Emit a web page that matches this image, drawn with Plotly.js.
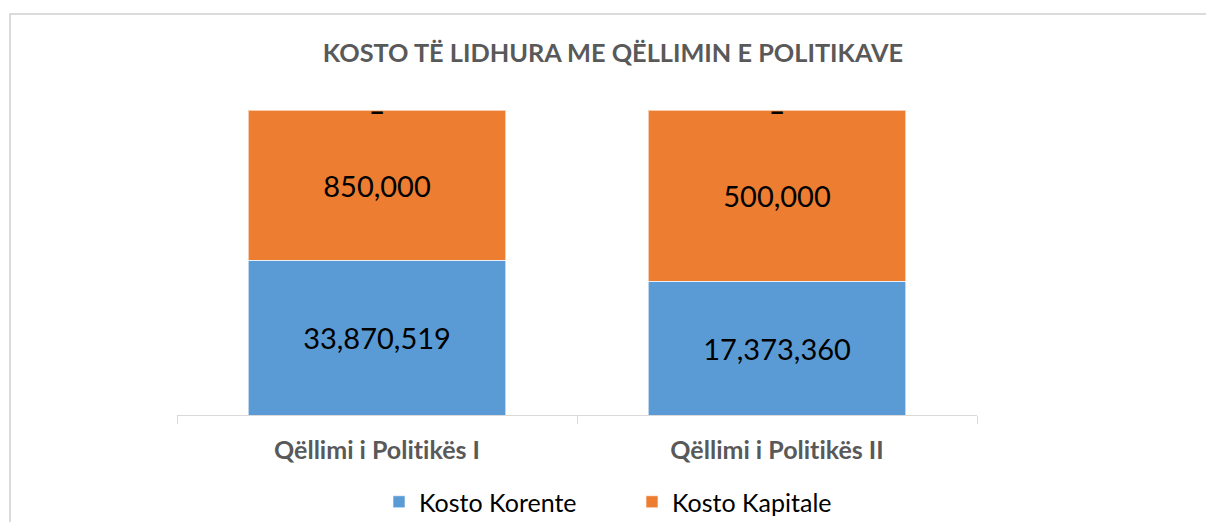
<!DOCTYPE html>
<html>
<head>
<meta charset="utf-8">
<script src="https://cdn.plot.ly/plotly-3.0.1.min.js"></script>
<style>html,body{margin:0;padding:0;background:#fff;}#chart{width:1206px;height:522px;}
#chart text{font-variant-ligatures:none;font-feature-settings:"liga" 0;}</style>
</head>
<body>
<div id="chart"></div>
<script>
// Categories
var categories = ["Qëllimi i Politikës I", "Qëllimi i Politikës II"];
// Printed values (data labels)
var korenteValues = [33870519, 17373360];
var kapitaleValues = [850000, 500000];
// Bar segment heights as drawn in the reference (share of bar, %)
var korenteShare = [50.8, 43.9];
var kapitaleShare = [49.2, 56.1];
// Third (empty) series shown only as a dash label at top of stack
var otherLabels = ["–", "–"];
var seriesNames = ["Kosto Korente", "Kosto Kapitale"];

function fmt(v){ return v.toLocaleString("en-US"); }

var FONT = "Lato, 'Open Sans', sans-serif";

var traces = [
  {
    type: "bar", name: seriesNames[0], x: categories, y: korenteShare,
    text: korenteValues.map(fmt), textposition: "inside", insidetextanchor: "middle",
    textfont: {family: FONT, size: 29, color: "#000"},
    marker: {color: "#5B9BD5", line: {color: "rgba(255,255,255,0.6)", width: 1}},
    hoverinfo: "skip"
  },
  {
    type: "bar", name: seriesNames[1], x: categories, y: kapitaleShare,
    text: kapitaleValues.map(fmt), textposition: "inside", insidetextanchor: "middle",
    textfont: {family: FONT, size: 29, color: "#000"},
    marker: {color: "#ED7D31", line: {color: "rgba(255,255,255,0.6)", width: 1}},
    hoverinfo: "skip"
  }
];

var dashAnnotations = categories.map(function(c, i){
  return {
    x: c, y: korenteShare[i] + kapitaleShare[i], xref: "x", yref: "y",
    text: "<b>" + otherLabels[i] + "</b>", showarrow: false, yshift: 0,
    font: {family: FONT, size: 28, color: "#000"}
  };
});

var L = 177, R = 1206 - 977, T = 110, B = 522 - 415;
var pw = 1206 - L - R, ph = 522 - T - B;

var layout = {
  width: 1206, height: 522,
  margin: {l: L, r: R, t: T, b: B, pad: 0, autoexpand: false},
  paper_bgcolor: "#fff", plot_bgcolor: "#fff",
  barmode: "stack", bargap: 0.357,
  title: {
    text: "KOSTO TË LIDHURA ME QËLLIMIN E POLITIKAVE",
    font: {family: FONT, size: 25.3, color: "#595959", weight: "bold"},
    x: 613/1206, xanchor: "center", xref: "container",
    y: 1 - 53/522, yanchor: "middle", yref: "container",
    automargin: false
  },
  xaxis: {
    type: "category", showline: true, linecolor: "#d9d9d9", linewidth: 1,
    ticks: "outside", tickson: "boundaries", ticklen: 8, tickcolor: "#d9d9d9", tickwidth: 1,
    tickfont: {family: FONT, size: 25, color: "#595959", weight: "bold"},
    ticklabelstandoff: 13, automargin: false,
    showgrid: false, zeroline: false, fixedrange: true
  },
  yaxis: {
    range: [0, 100], visible: false, showgrid: false, zeroline: false, fixedrange: true
  },
  showlegend: true,
  legend: {
    orientation: "h",
    x: (379 - L)/pw, xanchor: "left",
    y: -(502 - 415)/ph, yanchor: "middle",
    font: {family: FONT, size: 25, color: "#000"},
    entrywidth: 208, entrywidthmode: "pixels",
    traceorder: "normal", bgcolor: "rgba(0,0,0,0)"
  },
  annotations: dashAnnotations,
  shapes: [
    {
      type: "rect", xref: "paper", yref: "paper",
      x0: (10 - L)/pw, x1: (1215 - L)/pw,
      y0: -(530 - 415)/ph, y1: (415 - 14)/ph,
      line: {color: "#d0d0d0", width: 1.5}, fillcolor: "rgba(0,0,0,0)"
    }
  ]
};

Plotly.newPlot("chart", traces, layout, {displayModeBar: false, staticPlot: true});
</script>
</body>
</html>
